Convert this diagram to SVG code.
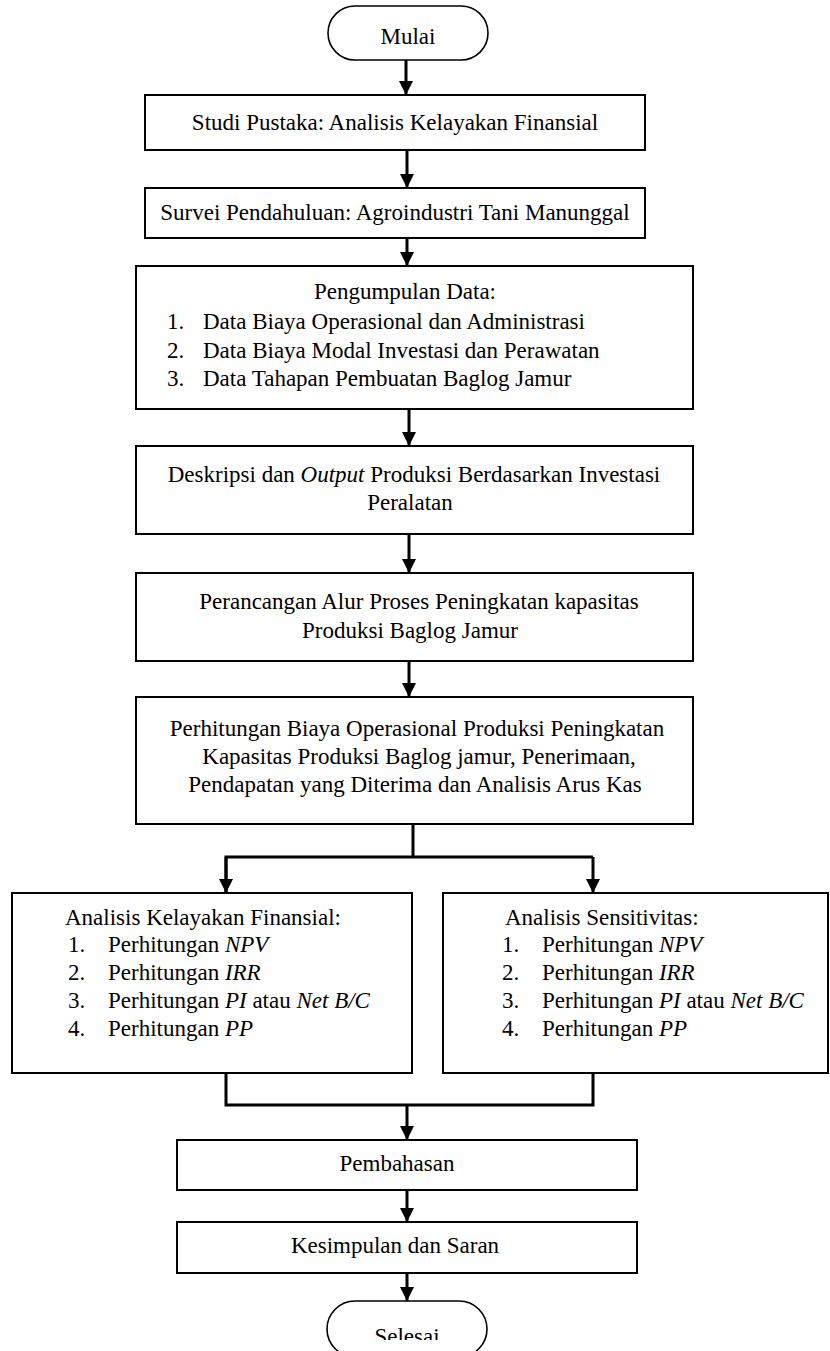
<svg xmlns="http://www.w3.org/2000/svg" width="830" height="1351" viewBox="0 0 830 1351">
<style>
text{font-family:"Liberation Serif","Times New Roman",serif;font-size:23px;fill:#000}
.c{text-anchor:middle}
.i{font-style:italic}
.box{fill:#fff;stroke:#000;stroke-width:2}
.term{fill:#fff;stroke:#000;stroke-width:1.6}
.ln{fill:none;stroke:#000;stroke-width:3}
</style>
<defs>
<marker id="ah" markerUnits="userSpaceOnUse" markerWidth="14" markerHeight="14" refX="14" refY="7" orient="auto">
<path d="M0,0 L14,7 L0,14 z" fill="#000"/>
</marker>
<clipPath id="clipSel"><rect x="300" y="1290" width="220" height="50"/></clipPath>
</defs>
<rect width="830" height="1351" fill="#fff"/>

<g id="connectors">
<line class="ln" x1="406" y1="60" x2="406" y2="95" marker-end="url(#ah)"/>
<line class="ln" x1="407" y1="150" x2="407" y2="188" marker-end="url(#ah)"/>
<line class="ln" x1="407" y1="238" x2="407" y2="266" marker-end="url(#ah)"/>
<line class="ln" x1="409" y1="409" x2="409" y2="446" marker-end="url(#ah)"/>
<line class="ln" x1="409" y1="534" x2="409" y2="573" marker-end="url(#ah)"/>
<line class="ln" x1="409" y1="661" x2="409" y2="697" marker-end="url(#ah)"/>
<polyline class="ln" points="413,824 413,857"/>
<polyline class="ln" points="226,893 226,857 593,857"/>
<line class="ln" x1="226" y1="857" x2="226" y2="893" marker-end="url(#ah)"/>
<line class="ln" x1="593" y1="857" x2="593" y2="893" marker-end="url(#ah)"/>
<polyline class="ln" points="226,1073 226,1105 593,1105 593,1073"/>
<line class="ln" x1="407" y1="1105" x2="407" y2="1140" marker-end="url(#ah)"/>
<line class="ln" x1="407" y1="1190" x2="407" y2="1222" marker-end="url(#ah)"/>
<line class="ln" x1="407" y1="1273" x2="407" y2="1301" marker-end="url(#ah)"/>
</g>

<g id="mulai">
<rect class="term" x="328" y="6" width="160" height="54" rx="27" ry="27"/>
<text class="c" x="408" y="44">Mulai</text>
</g>

<g id="studi">
<rect class="box" x="145" y="95" width="500" height="55"/>
<text class="c" x="395" y="130">Studi Pustaka: Analisis Kelayakan Finansial</text>
</g>

<g id="survei">
<rect class="box" x="145" y="188" width="500" height="50"/>
<text class="c" x="395" y="220">Survei Pendahuluan: Agroindustri Tani Manunggal</text>
</g>

<g id="pengumpulan">
<rect class="box" x="136" y="266" width="557" height="143"/>
<text class="c" x="405" y="299">Pengumpulan Data:</text>
<text x="167" y="329">1.</text><text x="203" y="329">Data Biaya Operasional dan Administrasi</text>
<text x="167" y="358">2.</text><text x="203" y="358">Data Biaya Modal Investasi dan Perawatan</text>
<text x="167" y="386">3.</text><text x="203" y="386">Data Tahapan Pembuatan Baglog Jamur</text>
</g>

<g id="deskripsi">
<rect class="box" x="136" y="446" width="557" height="88"/>
<text class="c" x="414" y="482">Deskripsi dan <tspan class="i">Output</tspan> Produksi Berdasarkan Investasi</text>
<text class="c" x="410" y="510">Peralatan</text>
</g>

<g id="perancangan">
<rect class="box" x="136" y="573" width="557" height="88"/>
<text class="c" x="419" y="609">Perancangan Alur Proses Peningkatan kapasitas</text>
<text class="c" x="410" y="638">Produksi Baglog Jamur</text>
</g>

<g id="perhitungan">
<rect class="box" x="136" y="697" width="557" height="127"/>
<text class="c" x="417" y="736">Perhitungan Biaya Operasional Produksi Peningkatan</text>
<text class="c" x="419" y="764">Kapasitas Produksi Baglog jamur, Penerimaan,</text>
<text class="c" x="415" y="792">Pendapatan yang Diterima dan Analisis Arus Kas</text>
</g>

<g id="kelayakan">
<rect class="box" x="12" y="893" width="400" height="180"/>
<text x="65" y="925">Analisis Kelayakan Finansial:</text>
<text x="68" y="952">1.</text><text x="108" y="952">Perhitungan <tspan class="i">NPV</tspan></text>
<text x="68" y="980">2.</text><text x="108" y="980">Perhitungan <tspan class="i">IRR</tspan></text>
<text x="68" y="1008">3.</text><text x="108" y="1008">Perhitungan <tspan class="i">PI</tspan> atau <tspan class="i">Net B/C</tspan></text>
<text x="68" y="1036">4.</text><text x="108" y="1036">Perhitungan <tspan class="i">PP</tspan></text>
</g>

<g id="sensitivitas">
<rect class="box" x="443" y="893" width="385" height="180"/>
<text x="505" y="925">Analisis Sensitivitas:</text>
<text x="502" y="952">1.</text><text x="542" y="952">Perhitungan <tspan class="i">NPV</tspan></text>
<text x="502" y="980">2.</text><text x="542" y="980">Perhitungan <tspan class="i">IRR</tspan></text>
<text x="502" y="1008">3.</text><text x="542" y="1008">Perhitungan <tspan class="i">PI</tspan> atau <tspan class="i">Net B/C</tspan></text>
<text x="502" y="1036">4.</text><text x="542" y="1036">Perhitungan <tspan class="i">PP</tspan></text>
</g>

<g id="pembahasan">
<rect class="box" x="177" y="1140" width="460" height="50"/>
<text class="c" x="397" y="1171">Pembahasan</text>
</g>

<g id="kesimpulan">
<rect class="box" x="177" y="1222" width="460" height="51"/>
<text class="c" x="395" y="1253">Kesimpulan dan Saran</text>
</g>

<g id="selesai">
<rect class="term" x="327" y="1301" width="160" height="56" rx="28" ry="28"/>
<text class="c" x="407" y="1344" clip-path="url(#clipSel)">Selesai</text>
</g>
</svg>
